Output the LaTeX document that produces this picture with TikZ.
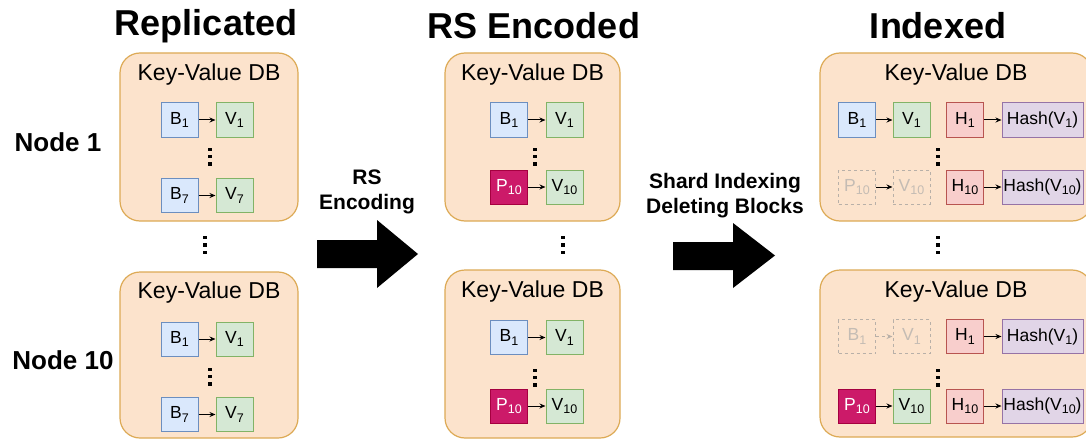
\documentclass[tikz,border=0pt]{standalone}
\usepackage{fontspec}
\setmainfont{Liberation Sans}
\usetikzlibrary{arrows.meta}
\definecolor{peachF}{HTML}{FCE3CC}
\definecolor{peachD}{HTML}{DDAA55}
\definecolor{blueF}{HTML}{DAE8FC}
\definecolor{blueD}{HTML}{6C8EBF}
\definecolor{greenF}{HTML}{D5E8D4}
\definecolor{greenD}{HTML}{82B366}
\definecolor{redF}{HTML}{F8CECC}
\definecolor{redD}{HTML}{B85450}
\definecolor{purpF}{HTML}{E1D5E7}
\definecolor{purpD}{HTML}{9673A6}
\definecolor{magF}{HTML}{CC1A69}
\definecolor{magD}{HTML}{A50040}
\definecolor{ghostD}{HTML}{B8B0A8}
\definecolor{ghostT}{HTML}{C4BCB4}
\newcommand\lsub[1]{\raisebox{-0.35ex}{\fontsize{12.5}{12.5}\selectfont #1}}
\tikzset{
  container/.style={draw=peachD, fill=peachF, rounded corners=20pt, line width=1.2pt, inner sep=0pt},
  sbox/.style={minimum width=37pt, minimum height=34pt, inner sep=0pt, font=\fontsize{17.5}{17.5}\selectfont, line width=1pt},
  bbox/.style={sbox, draw=blueD, fill=blueF},
  vbox/.style={sbox, draw=greenD, fill=greenF},
  hbox/.style={sbox, draw=redD, fill=redF},
  hashbox/.style={sbox, minimum width=81pt, draw=purpD, fill=purpF},
  pbox/.style={sbox, draw=magD, fill=magF, text=white},
  ghost/.style={sbox, draw=ghostD, dashed, fill=peachF, text=ghostT},
  link/.style={-{Stealth[length=6pt,width=5pt]}, line width=1pt, black},
  ghostlink/.style={-{Stealth[length=6pt,width=5pt]}, line width=1pt, ghostD, dashed},
  kv/.style={font=\fontsize{23}{23}\selectfont, inner sep=0pt},
  title/.style={font=\bfseries\fontsize{36}{36}\selectfont, inner sep=0pt},
  side/.style={font=\bfseries\fontsize{26}{26}\selectfont, inner sep=0pt},
  lbl/.style={font=\bfseries\fontsize{21}{25}\selectfont, align=center, inner sep=0pt},
  vdots/.pic={\foreach \d in {-7.3,0,7.3} \fill (-1.7,\d-1.7) rectangle (1.7,\d+1.7);}
}
\begin{document}
\begin{tikzpicture}[x=1pt,y=-1pt]
\useasboundingbox (0,0) rectangle (1086,441);
\fill[white] (0,0) rectangle (1086,441);

% titles
\node[title] (t1) at (206,26) {Replicated};
\node[title] (t2) at (534,26) {RS Encoded};
\node[title] (t3) at (938,26) {Indexed};

% side labels
\node[side] (n1) at (58,142) {Node 1};
\node[side] (n10) at (63,360) {Node 10};

% ---------- Replicated ----------
\node[container, minimum width=178pt, minimum height=168pt] (c1) at (209,137) {};
\node[kv] (c1t) at (209,75) {Key-Value DB};
\node[bbox] (c1b1) at (179.5,120) {B\lsub{1}};
\node[vbox] (c1v1) at (234.5,120) {V\lsub{1}};
\node[bbox] (c1b7) at (179.5,195.5) {B\lsub{7}};
\node[vbox] (c1v7) at (234.5,195.5) {V\lsub{7}};
\draw[link] (c1b1) -- (c1v1);
\draw[link] (c1b7) -- (c1v7);
\pic at (210,156.5) {vdots};

\pic at (205,245) {vdots};

\node[container, minimum width=178pt, minimum height=166pt] (c2) at (209,355) {};
\node[kv] (c2t) at (209,293) {Key-Value DB};
\node[bbox] (c2b1) at (179.5,339) {B\lsub{1}};
\node[vbox] (c2v1) at (234.5,339) {V\lsub{1}};
\node[bbox] (c2b7) at (179.5,414.5) {B\lsub{7}};
\node[vbox] (c2v7) at (234.5,414.5) {V\lsub{7}};
\draw[link] (c2b1) -- (c2v1);
\draw[link] (c2b7) -- (c2v7);
\pic at (210,376.5) {vdots};

% big arrow 1
\fill (317,240) -- (377,240) -- (377,220) -- (418,254) -- (377,288) -- (377,268) -- (317,268) -- cycle;
\node[lbl] (a1) at (367,192) {RS\\Encoding};

% ---------- RS Encoded ----------
\node[container, minimum width=175pt, minimum height=168pt] (m1) at (532.5,137) {};
\node[kv] (m1t) at (532.5,75) {Key-Value DB};
\node[bbox] (m1b1) at (509,120) {B\lsub{1}};
\node[vbox] (m1v1) at (564.5,120) {V\lsub{1}};
\node[pbox] (m1p) at (509,187) {P\lsub{10}};
\node[vbox] (m1v10) at (564.5,187) {V\lsub{10}};
\draw[link] (m1b1) -- (m1v1);
\draw[link] (m1p) -- (m1v10);
\pic at (535,156.5) {vdots};

\pic at (563,245) {vdots};

\node[container, minimum width=175pt, minimum height=168pt] (m2) at (532.5,354) {};
\node[kv] (m2t) at (532.5,292) {Key-Value DB};
\node[bbox] (m2b1) at (509,337.5) {B\lsub{1}};
\node[vbox] (m2v1) at (564.5,337.5) {V\lsub{1}};
\node[pbox] (m2p) at (509,406) {P\lsub{10}};
\node[vbox] (m2v10) at (564.5,406) {V\lsub{10}};
\draw[link] (m2b1) -- (m2v1);
\draw[link] (m2p) -- (m2v10);
\pic at (535,377.5) {vdots};

% big arrow 2
\fill (673,242) -- (733,242) -- (733,223) -- (775,255.5) -- (733,288) -- (733,270) -- (673,270) -- cycle;
\node[lbl] (a2) at (725,196) {Shard Indexing\\Deleting Blocks};

% ---------- Indexed ----------
\node[container, minimum width=272pt, minimum height=168pt] (r1) at (956,137) {};
\node[kv] (r1t) at (956,75) {Key-Value DB};
\node[bbox] (r1b1) at (857,120) {B\lsub{1}};
\node[vbox] (r1v1) at (911.5,120) {V\lsub{1}};
\node[hbox] (r1h1) at (965,120) {H\lsub{1}};
\node[hashbox] (r1x1) at (1042.5,120) {Hash(V\lsub{1})};
\node[ghost] (r1p) at (857,187) {P\lsub{10}};
\node[ghost] (r1v10) at (911.5,187) {V\lsub{10}};
\node[hbox] (r1h10) at (965,187) {H\lsub{10}};
\node[hashbox] (r1x10) at (1042.5,187) {Hash(V\lsub{10})};
\draw[link] (r1b1) -- (r1v1);
\draw[link] (r1h1) -- (r1x1);
\draw[link] (r1p) -- (r1v10);
\draw[link] (r1h10) -- (r1x10);
\pic at (938,156.5) {vdots};

\pic at (938,245) {vdots};

\node[container, minimum width=272pt, minimum height=167pt] (r2) at (956,353.5) {};
\node[kv] (r2t) at (956,292) {Key-Value DB};
\node[ghost] (r2b1) at (857,336.5) {B\lsub{1}};
\node[ghost] (r2v1) at (911.5,336.5) {V\lsub{1}};
\node[hbox] (r2h1) at (965,336.5) {H\lsub{1}};
\node[hashbox] (r2x1) at (1042.5,336.5) {Hash(V\lsub{1})};
\node[pbox] (r2p) at (857,406) {P\lsub{10}};
\node[vbox] (r2v10) at (911.5,406) {V\lsub{10}};
\node[hbox] (r2h10) at (965,406) {H\lsub{10}};
\node[hashbox] (r2x10) at (1042.5,406) {Hash(V\lsub{10})};
\draw[ghostlink] (r2b1) -- (r2v1);
\draw[link] (r2h1) -- (r2x1);
\draw[link] (r2p) -- (r2v10);
\draw[link] (r2h10) -- (r2x10);
\pic at (938,377.5) {vdots};
\end{tikzpicture}
\end{document}
